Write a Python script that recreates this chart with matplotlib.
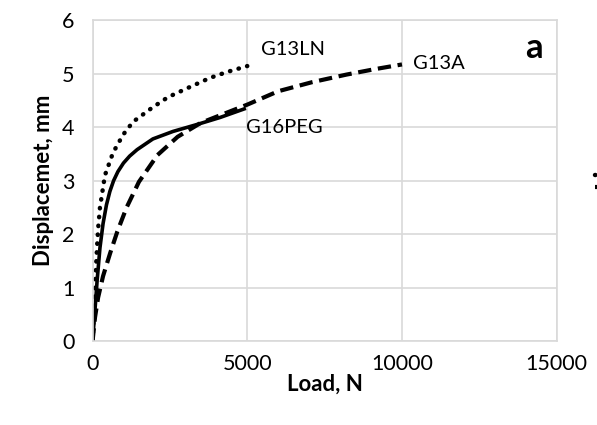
import matplotlib.pyplot as plt

# load (N) vs displacement (mm) for each sample
g13ln_load = [0, 30, 80, 140, 180, 240, 400, 660, 990, 1310, 1920, 2440, 3150, 3800, 4350, 5000]
g13ln_disp = [0, 0.4, 1.0, 1.7, 2.1, 2.5, 3.1, 3.52, 3.86, 4.10, 4.36, 4.56, 4.75, 4.92, 5.03, 5.14]

g16peg_load = [0, 80, 150, 240, 340, 450, 560, 680, 820, 1000, 1200, 1440, 1950, 2600,
               3380, 4120, 4900]
g16peg_disp = [0, 0.6, 1.15, 1.75, 2.2, 2.55, 2.8, 3.0, 3.17, 3.33, 3.46, 3.58, 3.78, 3.92,
               4.05, 4.18, 4.34]

g13a_load = [0, 80, 180, 340, 570, 800, 1100, 1500, 2100, 2750, 3500, 4250, 5000,
             6000, 7100, 8200, 9100, 10000]
g13a_disp = [0, 0.45, 0.82, 1.22, 1.65, 2.05, 2.5, 2.98, 3.48, 3.82, 4.08, 4.25, 4.42,
             4.67, 4.84, 4.98, 5.08, 5.17]

plt.rcParams['font.family'] = ['Lato', 'DejaVu Sans']

fig = plt.figure(figsize=(5.97, 4.25), dpi=100)
ax = fig.add_axes([0.155, 0.1965, 0.7775, 0.7565])

l_ln, = ax.plot(g13ln_load, g13ln_disp, c="black", lw=3.2, ls=(0, (0.1, 1.9)),
                dash_capstyle="round", label="G13LN")
l_peg, = ax.plot(g16peg_load, g16peg_disp, c="black", lw=2.6, label="G16PEG")
l_a, = ax.plot(g13a_load, g13a_disp, c="black", lw=3, ls=(0, (3.2, 1.6)), label="G13A")

ax.text(5450, 5.44, "G13LN", fontsize=14.5, va="center")
ax.text(10350, 5.18, "G13A", fontsize=14.5, va="center")
ax.text(4950, 4.0, "G16PEG", fontsize=14.5, va="center")
ax.text(14250, 5.47, "a", fontsize=25, fontweight="bold", ha="center", va="center")

ax.set_xlim(0, 15000)
ax.set_ylim(0, 6)
ax.set_xticks([0, 5000, 10000, 15000])
ax.set_yticks(range(7))
ax.grid(True, color="#d9d9d9", lw=1.2)
ax.set_axisbelow(True)
for s in ax.spines.values():
    s.set_color("#d9d9d9")
    s.set_linewidth(1.2)
ax.tick_params(length=0, labelsize=15.5, pad=9)
ax.tick_params(axis="y", pad=13)
ax.set_xlabel("Load, N", fontsize=16, fontweight="bold", labelpad=0)
ax.set_ylabel("Displacemet, mm", fontsize=16, fontweight="bold", labelpad=6)

# legend sits mostly past the right edge
fig.legend(handles=[l_ln, l_a], labels=[" ", " "], loc="center left",
           bbox_to_anchor=(0.997, 0.574), frameon=False, fontsize=9,
           borderpad=0, borderaxespad=0, handlelength=2.0, labelspacing=0.0)

fig.savefig("out.png", dpi=100)
